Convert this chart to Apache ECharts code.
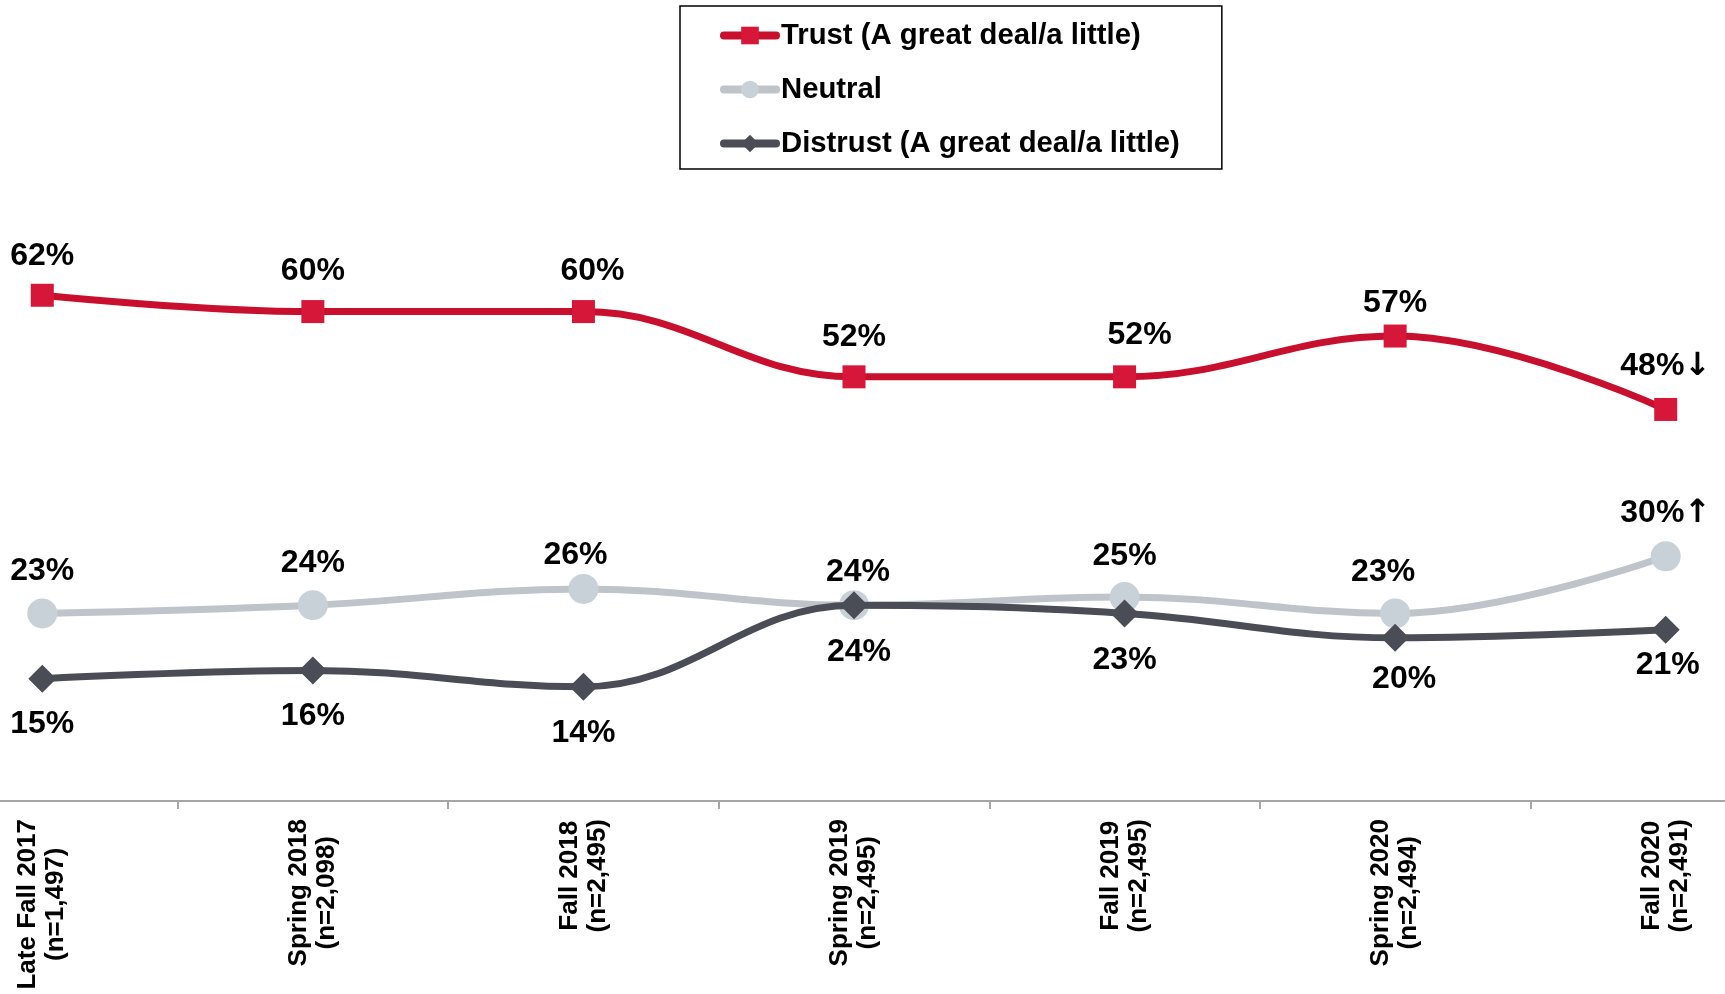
<!DOCTYPE html>
<html>
<head>
<meta charset="utf-8">
<script src="https://cdn.jsdelivr.net/npm/echarts@6/dist/echarts.min.js"></script>
<style>
html,body{margin:0;padding:0;background:#fff;overflow:hidden;width:1725px;height:994px;}
#chart{width:1894px;height:994px;margin-left:-93px;}
</style>
</head>
<body>
<div id="chart"></div>
<script>
var categories = ['Late Fall 2017', 'Spring 2018', 'Fall 2018', 'Spring 2019', 'Fall 2019', 'Spring 2020', 'Fall 2020'];
var sampleSizes = ['(n=1,497)', '(n=2,098)', '(n=2,495)', '(n=2,495)', '(n=2,495)', '(n=2,494)', '(n=2,491)'];
var seriesNames = ['Trust (A great deal/a little)', 'Neutral', 'Distrust (A great deal/a little)'];
var trust = [62, 60, 60, 52, 52, 57, 48];
var neutral = [23, 24, 26, 24, 25, 23, 30];
var distrust = [15, 16, 14, 24, 23, 20, 21];
// significance markers on the last wave
var trustMark = ['', '', '', '', '', '', '↓'];
var neutralMark = ['', '', '', '', '', '', '↑'];
var distrustMark = ['', '', '', '', '', '', ''];

// label placement offsets (pixels) relative to each marker
var trustOff = [[0,-39],[0,-40],[9,-40],[0,-40],[15,-42],[0,-33],[0,-43]];
var neutralOff = [[0,-42],[0,-42],[-8,-34],[4,-33],[0,-41],[-12,-41],[0,-43]];
var distrustOff = [[0,46],[0,46],[0,46],[5,47],[0,47],[9,41],[2,35]];

function build(values, marks, offs) {
  return values.map(function (v, i) {
    return {
      value: v,
      label: {
        offset: offs[i],
        formatter: '{v|' + v + '%}' + (marks[i] ? '{ar|' + marks[i] + '}' : '')
      }
    };
  });
}

var FONT = 'Arial, "Liberation Sans", sans-serif';
var labelStyle = {
  show: true,
  position: 'inside',
  rich: {
    v: { fontFamily: FONT, fontWeight: 'bold', fontSize: 32, color: '#000' },
    ar: { fontFamily: '"DejaVu Sans", sans-serif', fontWeight: 'bold', fontSize: 32, color: '#000' }
  }
};

var chart = echarts.init(document.getElementById('chart'), null, {renderer: 'canvas'});
chart.setOption({
  animation: false,
  backgroundColor: '#fff',
  textStyle: { fontFamily: FONT },
  legend: {
    left: 773,
    top: 6,
    orient: 'vertical',
    padding: [15, 42, 11, 40],
    borderColor: '#000',
    borderWidth: 1.5,
    itemWidth: 52,
    itemHeight: 22,
    itemGap: 25,
    lineStyle: { width: 8, cap: 'round' },
    textStyle: { fontSize: 29.3, fontWeight: 'bold', color: '#000', fontFamily: FONT },
    data: seriesNames
  },
  grid: { left: 0, right: 0, top: 230, bottom: 193, containLabel: false },
  xAxis: {
    type: 'category',
    data: categories,
    boundaryGap: true,
    axisLine: { show: true, lineStyle: { color: '#a6a6a6', width: 2 } },
    axisTick: { show: true, length: 8, lineStyle: { color: '#a6a6a6', width: 2 } },
    axisLabel: {
      rotate: 90,
      margin: 18,
      interval: 0,
      formatter: function (v, i) { return '{a|' + v + '}\n{a|' + sampleSizes[i] + '}'; },
      rich: {
        a: { fontSize: 26, fontWeight: 'bold', color: '#000', lineHeight: 28, align: 'center', fontFamily: FONT }
      }
    }
  },
  yAxis: {
    type: 'value',
    min: 0,
    max: 70,
    show: false,
    splitLine: { show: false }
  },
  series: [
    {
      name: seriesNames[0],
      type: 'line',
      smooth: 0.4,
      symbol: 'rect',
      symbolSize: 23,
      lineStyle: { color: '#C8102E', width: 7 },
      itemStyle: { color: '#D6173A' },
      label: labelStyle,
      data: build(trust, trustMark, trustOff),
      z: 4
    },
    {
      name: seriesNames[1],
      type: 'line',
      smooth: 0.4,
      symbol: 'circle',
      symbolSize: 30,
      lineStyle: { color: '#BEC4C9', width: 7 },
      itemStyle: { color: '#C9D1D8' },
      label: labelStyle,
      data: build(neutral, neutralMark, neutralOff),
      z: 2
    },
    {
      name: seriesNames[2],
      type: 'line',
      smooth: 0.4,
      symbol: 'diamond',
      symbolSize: 28,
      lineStyle: { color: '#4A4D55', width: 7 },
      itemStyle: { color: '#4A4D55' },
      label: labelStyle,
      data: build(distrust, distrustMark, distrustOff),
      z: 3
    }
  ]
});
</script>
</body>
</html>
